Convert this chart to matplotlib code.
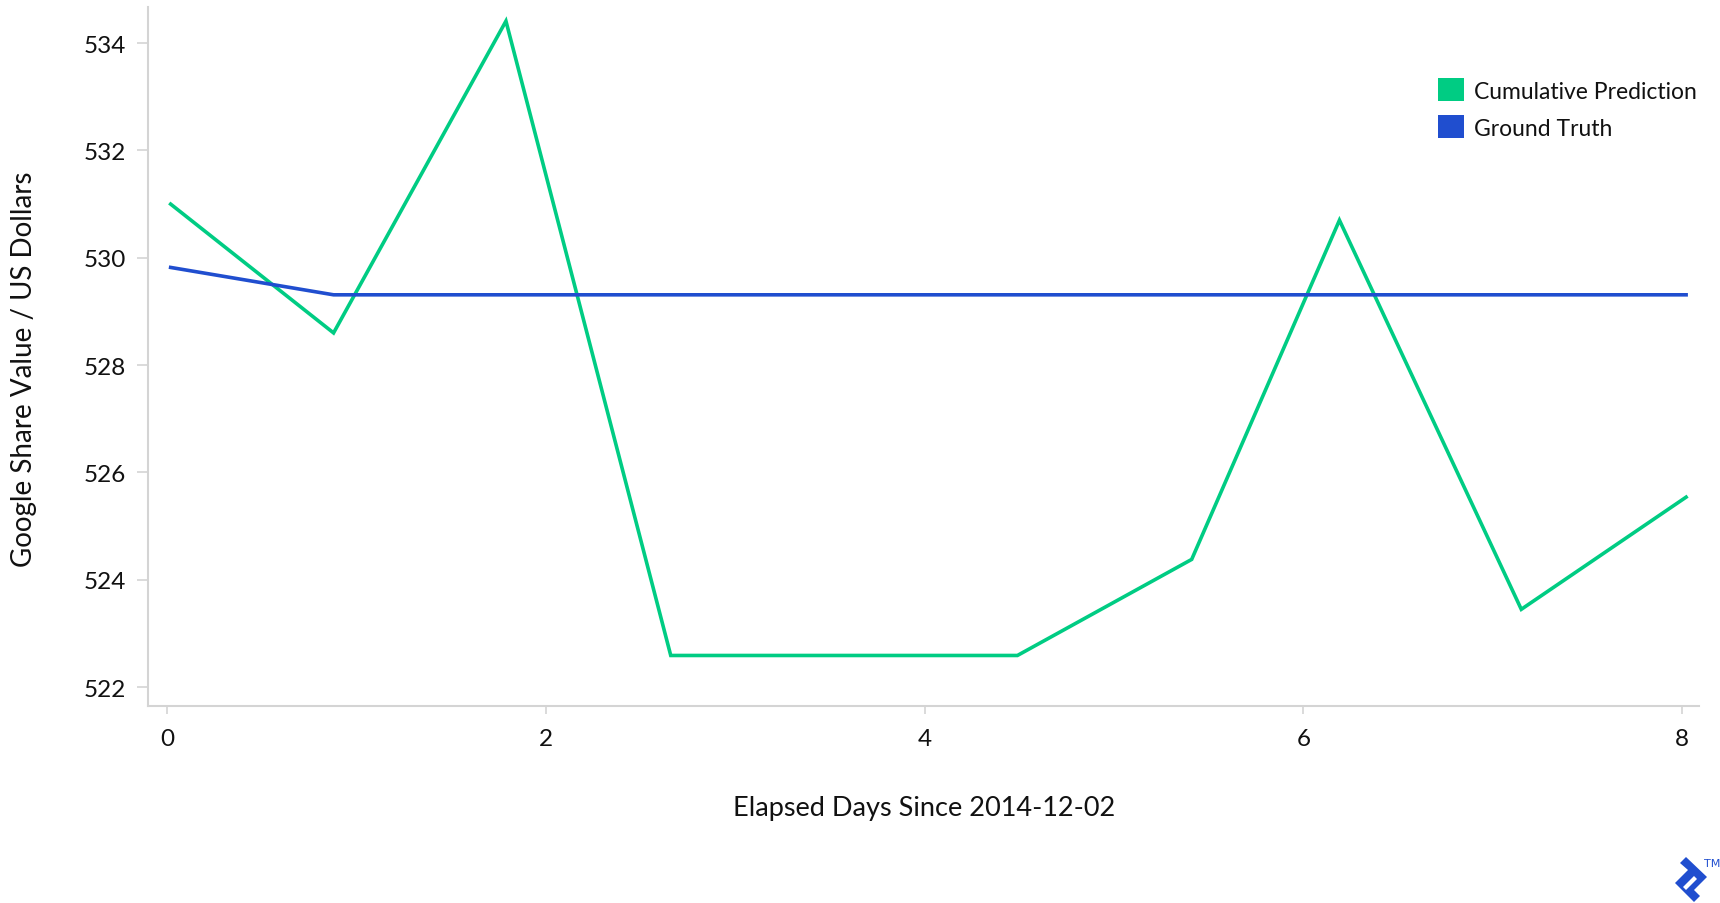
import matplotlib.pyplot as plt
from matplotlib.patches import Patch, Polygon

# Values
days = [0.02, 0.88, 1.79, 2.66, 3.57, 4.49, 5.41, 6.19, 7.15, 8.02]
cumulative_prediction = [531.0, 528.6, 534.41, 522.59, 522.59, 522.59, 524.38, 530.7, 523.45, 525.54]
ground_truth = [529.82, 529.31, 529.31, 529.31, 529.31, 529.31, 529.31, 529.31, 529.31, 529.31]
x_ticks = [0, 2, 4, 6, 8]
y_ticks = [522, 524, 526, 528, 530, 532, 534]

green = '#00cc83'
blue = '#204ecf'
grey = '#d4d4d4'
text_col = '#111111'

plt.rcParams['font.family'] = ['Lato', 'DejaVu Sans']

W, H = 1720, 904
fig = plt.figure(figsize=(W / 100, H / 100), dpi=100)
ax = fig.add_axes([0.086, 0.218, 0.902, 0.773])

ax.plot(days, cumulative_prediction, color=green, lw=2.6, solid_joinstyle='miter')
ax.plot(days, ground_truth, color=blue, lw=2.6)

ax.set_xlim(-0.1, 8.09)
ax.set_ylim(521.65, 534.67)
ax.set_xticks(x_ticks)
ax.set_yticks(y_ticks)

for side in ['top', 'right']:
    ax.spines[side].set_visible(False)
for side in ['left', 'bottom']:
    ax.spines[side].set_color(grey)
    ax.spines[side].set_linewidth(1.5)

ax.tick_params(axis='y', length=8, width=1.2, color=grey, pad=8,
               labelsize=17.5, labelcolor=text_col)
ax.tick_params(axis='x', length=6, width=1.2, color=grey, pad=10,
               labelsize=17.5, labelcolor=text_col)

ax.set_xlabel('Elapsed Days Since 2014-12-02', fontsize=19.5, color=text_col)
ax.xaxis.set_label_coords(0.5, -0.128)
ax.set_ylabel('Google Share Value / US Dollars', fontsize=20, color=text_col)
ax.yaxis.set_label_coords(-0.0712, 0.483)

handles = [Patch(facecolor=green, edgecolor='none', label='Cumulative Prediction'),
           Patch(facecolor=blue, edgecolor='none', label='Ground Truth')]
ax.legend(handles=handles, loc='upper right', bbox_to_anchor=(1.009, 0.921),
          frameon=False, fontsize=16.5, handlelength=1.15, handleheight=1.15,
          handletextpad=0.45, labelspacing=0.61, labelcolor=text_col,
          borderpad=0.2)

# small logo in the bottom-right corner (pixel coords, y measured from top)
outer = [(1686, 858), (1707, 878), (1694, 891), (1700, 897), (1694, 903),
         (1675, 884), (1688, 871), (1680, 864)]
slot = [(1683, 888), (1694, 877), (1697, 880), (1686, 891)]
for pts, col in [(outer, blue), (slot, 'white')]:
    fig.patches.append(Polygon([(x, H - y) for x, y in pts], closed=True,
                               facecolor=col, edgecolor='none', transform=None))
fig.text(1712 / W, 1 - 864 / H, 'TM', fontsize=8, color=blue,
         ha='center', va='center', family='DejaVu Sans')

fig.savefig('out.png', dpi=100)
